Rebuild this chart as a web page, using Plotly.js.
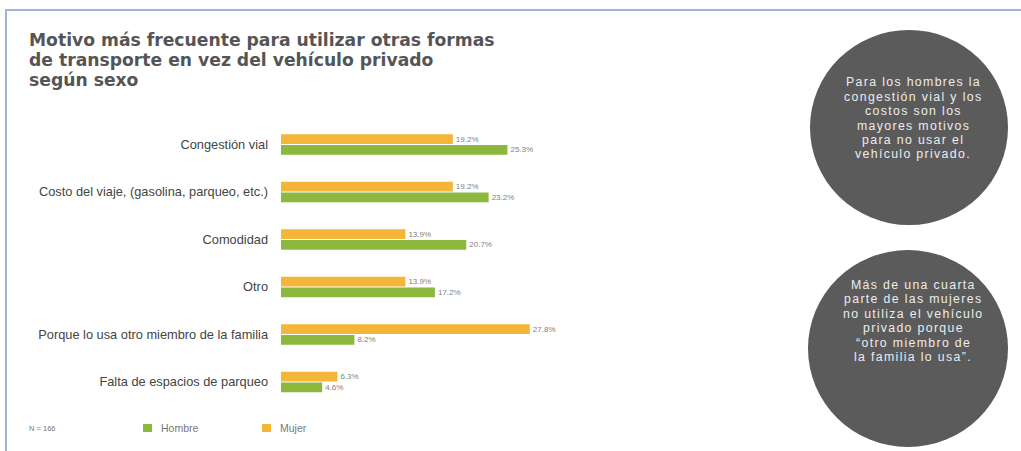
<!DOCTYPE html>
<html>
<head>
<meta charset="utf-8">
<script src="https://cdn.plot.ly/plotly-3.0.1.min.js"></script>
<style>html,body{margin:0;padding:0;background:#fff;}#chart{width:1021px;height:451px;}</style>
</head>
<body>
<div id="chart"></div>
<script>
// ---- data ----
const categories = [
  "Congestión vial",
  "Costo del viaje, (gasolina, parqueo, etc.)",
  "Comodidad",
  "Otro",
  "Porque lo usa otro miembro de la familia",
  "Falta de espacios de parqueo"
];
const hombreValues = [25.3, 23.2, 20.7, 17.2, 8.2, 4.6];
const mujerValues  = [19.2, 19.2, 13.9, 13.9, 27.8, 6.3];
const seriesNames = ["Hombre", "Mujer"];
const sampleNote = "N = 166";
const titleLines = [
  "Motivo más frecuente para utilizar otras formas",
  "de transporte en vez del vehículo privado",
  "según sexo"
];
const note1Lines = ["Para los hombres la", "congestión vial y los", "costos son los", "mayores motivos", "para no usar el", "vehículo privado."];
const note2Lines = ["Más de una cuarta", "parte de las mujeres", "no utiliza el vehículo", "privado porque", "\u201cotro miembro de", "la familia lo usa\u201d."];

// ---- layout helpers ----
const W = 1021, H = 451;
const px = x => x / W;
const py = y => 1 - y / H;
const GREEN = "#8cb83e";
const ORANGE = "#f3b638";
const CIRCLE = "#5b5b5b";
const SANS = "Liberation Sans, Arial, sans-serif";

const traces = [
  {
    type: "bar", orientation: "h", name: seriesNames[1],
    y: categories, x: mujerValues,
    marker: {color: ORANGE},
    text: mujerValues.map(v => v.toFixed(1) + "%"),
    textposition: "outside", cliponaxis: false,
    textfont: {family: SANS, size: 8, color: "#808080"},
    hoverinfo: "x+y"
  },
  {
    type: "bar", orientation: "h", name: seriesNames[0],
    y: categories, x: hombreValues,
    marker: {color: GREEN},
    text: hombreValues.map(v => v.toFixed(1) + "%"),
    textposition: "outside", cliponaxis: false,
    textfont: {family: SANS, size: 8, color: "#808080"},
    hoverinfo: "x+y"
  }
];

const annotations = [];
titleLines.forEach((t, i) => annotations.push({
  xref: "paper", yref: "paper", x: px(27), y: py(40 + i * 20.2),
  xanchor: "left", yanchor: "middle", showarrow: false, text: "<b>" + t + "</b>",
  font: {family: "DejaVu Sans, sans-serif", size: 17.2, color: "#555555"}
}));
const spaced = t => '<span style="letter-spacing:1.35px">' + t + '</span>';
note1Lines.forEach((t, i) => annotations.push({
  xref: "paper", yref: "paper", x: px(913), y: py(82 + i * 14.5),
  xanchor: "center", yanchor: "middle", showarrow: false, text: spaced(t),
  font: {family: SANS, size: 12.3, color: "#ececec"}
}));
note2Lines.forEach((t, i) => annotations.push({
  xref: "paper", yref: "paper", x: px(913), y: py(285 + i * 14.4),
  xanchor: "center", yanchor: "middle", showarrow: false, text: spaced(t),
  font: {family: SANS, size: 12.3, color: "#ececec"}
}));
// legend texts
annotations.push({xref: "paper", yref: "paper", x: px(27), y: py(428), xanchor: "left", yanchor: "middle",
  showarrow: false, text: sampleNote, font: {family: SANS, size: 7.5, color: "#777"}});
annotations.push({xref: "paper", yref: "paper", x: px(159), y: py(428), xanchor: "left", yanchor: "middle",
  showarrow: false, text: seriesNames[0], font: {family: SANS, size: 10.5, color: "#777"}});
annotations.push({xref: "paper", yref: "paper", x: px(278), y: py(428), xanchor: "left", yanchor: "middle",
  showarrow: false, text: seriesNames[1], font: {family: SANS, size: 10.5, color: "#777"}});

const shapes = [
  // frame
  {type: "rect", xref: "paper", yref: "paper", x0: px(6), x1: 1.02, y0: -0.02, y1: py(10),
   line: {color: "#a3b4da", width: 2}, fillcolor: "rgba(0,0,0,0)", layer: "below"},
  // circles
  {type: "circle", xref: "paper", yref: "paper", x0: px(810), x1: px(1008), y0: py(225), y1: py(30),
   fillcolor: CIRCLE, line: {width: 0}},
  {type: "circle", xref: "paper", yref: "paper", x0: px(808), x1: px(1008), y0: py(447), y1: py(250),
   fillcolor: CIRCLE, line: {width: 0}},
  // legend swatches
  {type: "rect", xref: "paper", yref: "paper", x0: px(143), x1: px(152), y0: py(432), y1: py(424),
   fillcolor: GREEN, line: {width: 0}},
  {type: "rect", xref: "paper", yref: "paper", x0: px(262), x1: px(271), y0: py(432), y1: py(424),
   fillcolor: ORANGE, line: {width: 0}}
];

const layout = {
  width: W, height: H,
  margin: {l: 0, r: 0, t: 0, b: 0},
  paper_bgcolor: "#ffffff", plot_bgcolor: "rgba(0,0,0,0)",
  showlegend: false,
  barmode: "group", bargap: 0.55, bargroupgap: 0.1,
  xaxis: {domain: [px(281), px(639)], range: [0, 40], visible: false, fixedrange: true},
  yaxis: {domain: [py(405.75), py(120.75)], autorange: "reversed", type: "category",
    showgrid: false, zeroline: false, showline: false, ticks: "",
    ticklabelstandoff: 12,
    tickfont: {family: SANS, size: 12.8, color: "#444444"}},
  annotations: annotations,
  shapes: shapes
};

Plotly.newPlot("chart", traces, layout, {displayModeBar: false, staticPlot: true});
</script>
</body>
</html>
